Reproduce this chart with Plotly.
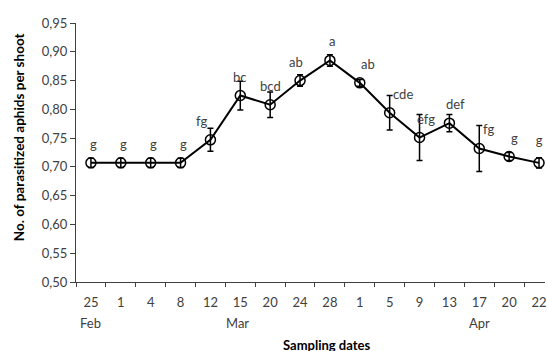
import plotly.graph_objects as go

days = ["25", "1", "4", "8", "12", "15", "20", "24", "28", "1", "5", "9", "13", "17", "20", "22"]
means = [0.707, 0.707, 0.707, 0.707, 0.747, 0.824, 0.808, 0.850, 0.885, 0.846, 0.794, 0.751, 0.776, 0.732, 0.718, 0.707]
errors = [0.008, 0.008, 0.008, 0.008, 0.020, 0.025, 0.022, 0.010, 0.010, 0.006, 0.030, 0.040, 0.015, 0.040, 0.007, 0.009]
letters = ["g", "g", "g", "g", "fg", "bc", "bcd", "ab", "a", "ab", "cde", "efg", "def", "fg", "g", "g"]
months = ["Feb", "Mar", "Apr"]
month_pos = [0, 4.9, 13]

label_xshift = [3, 3, 3, 3, -9, 0, 0, -4, 2, 8, 13, 6, 6, 9, 5, 0]

x = list(range(len(days)))
FONT = "Lato"
GREY = "#404040"

fig = go.Figure()
fig.add_trace(go.Scatter(
    x=x, y=means, mode="lines+markers",
    line=dict(color="black", width=2),
    marker=dict(symbol="circle-open", size=10, color="black", line=dict(width=1.5)),
    error_y=dict(type="data", array=errors, visible=True, color="black", thickness=1.5, width=3),
    cliponaxis=False, showlegend=False,
))

# last letter label drawn as trace text (annotations near the right edge get hidden)
fig.add_trace(go.Scatter(
    x=x[-1:], y=means[-1:], mode="markers+text", text=letters[-1:],
    textposition="top center",
    marker=dict(size=22, color="rgba(0,0,0,0)"),
    textfont=dict(family=FONT, size=13, color=GREY),
    cliponaxis=False, showlegend=False, hoverinfo="skip",
))

annotations = []
for i, (m, lab) in enumerate(zip(means[:-1], letters[:-1])):
    annotations.append(dict(x=i, y=m, xref="x", yref="y", text=lab, showarrow=False,
                            yshift=19, xshift=label_xshift[i],
                            font=dict(family=FONT, size=13, color=GREY)))
for mo, p in zip(months, month_pos):
    annotations.append(dict(x=p, y=-0.157, xref="x", yref="paper", text=mo, showarrow=False,
                            yanchor="middle", font=dict(family=FONT, size=13, color=GREY)))
annotations.append(dict(x=0.535, y=-0.243, xref="paper", yref="paper", text="<b>Sampling dates</b>",
                        showarrow=False, yanchor="middle",
                        font=dict(family=FONT, size=13, color="black")))
annotations.append(dict(x=-0.121, y=0.56, xref="paper", yref="paper",
                        text="<b>No. of parasitized aphids per shoot</b>", textangle=-90,
                        showarrow=False, xanchor="center", yanchor="middle",
                        font=dict(family=FONT, size=13.5, color="black")))

fig.update_layout(
    width=547, height=351,
    margin=dict(l=76, r=0, t=23, b=69),
    paper_bgcolor="white", plot_bgcolor="white",
    separators=", ",
    font=dict(family=FONT, size=13, color=GREY),
    annotations=annotations,
    xaxis=dict(
        range=[-0.5, 15.2], tickmode="array", tickvals=x, ticktext=days,
        ticks="", showgrid=False, zeroline=False,
        showline=True, linecolor=GREY, linewidth=1,
        ticklabelstandoff=8, ticklabeloverflow="allow",
        tickfont=dict(family=FONT, size=13, color=GREY),
        minor=dict(tickmode="array", tickvals=[i - 0.5 for i in range(len(days) + 1)],
                   ticks="outside", ticklen=4, tickcolor=GREY, showgrid=False),
    ),
    yaxis=dict(
        range=[0.5, 0.95], tickmode="linear", tick0=0.5, dtick=0.05, tickformat=".2f",
        ticks="outside", ticklen=5, tickcolor=GREY, showgrid=False, zeroline=False,
        showline=True, linecolor=GREY, linewidth=1,
        tickfont=dict(family=FONT, size=13, color=GREY),
    ),
)

fig.write_html(
    "out.html",
    config={"displayModeBar": False},
    post_script="document.body.style.margin='0';document.body.style.overflow='hidden';",
)
